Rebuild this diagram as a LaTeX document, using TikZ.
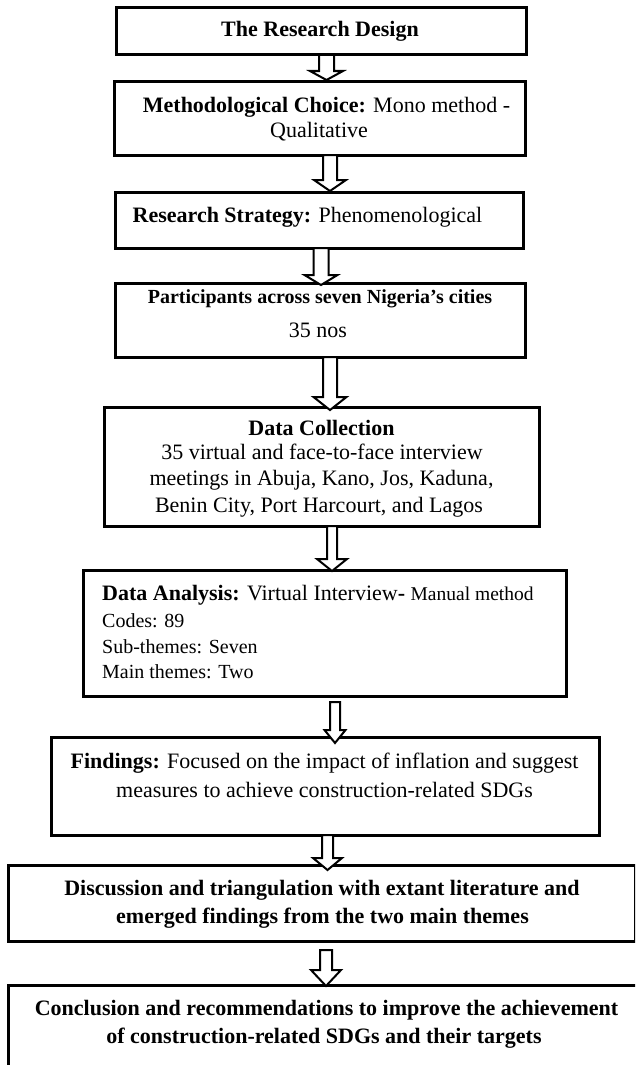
\documentclass[tikz,border=0pt]{standalone}
\usepackage{fontspec}
\setmainfont{Liberation Serif}
\newcommand\blockarrow[6]{%
  \draw[blk] (#1-#5,#2) -- (#1-#5,#3) -- (#1-#6,#3) -- (#1,#4) -- (#1+#6,#3) -- (#1+#5,#3) -- (#1+#5,#2) -- cycle;}
\begin{document}
\begin{tikzpicture}[x=1pt,y=-1pt,
  box/.style={draw=black,line width=3pt,rectangle,inner sep=0pt},
  blk/.style={draw=black,line width=2pt,fill=white,line join=miter},
  txt/.style={anchor=base,inner sep=0pt,font=\fontsize{22}{26}\selectfont},
  ltxt/.style={anchor=base west,inner sep=0pt,font=\fontsize{20}{24}\selectfont},
]
\useasboundingbox (0,0) rectangle (635,1065);
\clip (0,0) rectangle (635,1065);
\fill[white] (0,0) rectangle (635,1065);

% boxes
\node[box,minimum width=410pt,minimum height=47pt]  (b1) at (321,31.5) {};
\node[box,minimum width=411pt,minimum height=74pt]  (b2) at (319.5,118) {};
\node[box,minimum width=408pt,minimum height=56pt]  (b3) at (319,220) {};
\node[box,minimum width=410pt,minimum height=74pt]  (b4) at (320,320) {};
\node[box,minimum width=435pt,minimum height=119pt] (b5) at (321.5,466.5) {};
\node[box,minimum width=483pt,minimum height=126pt] (b6) at (324.5,633) {};
\node[box,minimum width=548pt,minimum height=98pt]  (b7) at (325,786) {};
\node[box,minimum width=627pt,minimum height=76pt]  (b8) at (321.5,903) {};
\node[box,minimum width=692pt,minimum height=135pt] (b9) at (354,1052.5) {};

% arrows
\blockarrow{326.5}{55}{71}{80}{7.5}{16.5}
\blockarrow{330}{155}{180}{191}{7}{16}
\blockarrow{321}{248}{275}{285}{7.5}{16.5}
\blockarrow{330}{357}{397}{410}{7}{16.5}
\blockarrow{332}{526}{559}{571}{5}{15}
\blockarrow{335}{702}{730}{743}{5}{10.5}
\blockarrow{327.5}{835}{858}{870}{5.5}{14.5}
\blockarrow{326}{950}{970}{986}{6}{15}

% texts
\node[txt] (t1) at (320,37) {\bfseries The Research Design};
\node[txt] (t2a) at (326.5,112) {\textbf{Methodological Choice:} Mono method -};
\node[txt] (t2b) at (319,137) {Qualitative};
\node[txt] (t3) at (307.5,222) {\textbf{Research Strategy:} Phenomenological};
\node[txt,font=\fontsize{20}{24}\selectfont\bfseries] (t4a) at (320,303) {Participants across seven Nigeria’s cities};
\node[txt] (t4b) at (318,337) {35 nos};
\node[txt] (t5a) at (321.5,435) {\bfseries Data Collection};
\node[txt] (t5b) at (322,459) {35 virtual and face-to-face interview};
\node[txt] (t5c) at (321.5,485) {meetings in Abuja, Kano, Jos, Kaduna,};
\node[txt] (t5d) at (319,512) {Benin City, Port Harcourt, and Lagos};
\node[ltxt,font=\fontsize{22}{26}\selectfont] (t6a) at (102,600) {\textbf{Data Analysis:} Virtual Interview\textbf{-} {\fontsize{19.5}{22}\selectfont Manual method}};
\node[ltxt] (t6b) at (102,627) {Codes: 89};
\node[ltxt] (t6c) at (102,653) {Sub-themes: Seven};
\node[ltxt] (t6d) at (102,678) {Main themes: Two};
\node[txt] (t7a) at (324.5,768) {\textbf{Findings:} Focused on the impact of inflation and suggest};
\node[txt] (t7b) at (324.5,797) {measures to achieve construction-related SDGs};
\node[txt] (t8a) at (322,895) {\bfseries Discussion and triangulation with extant literature and};
\node[txt] (t8b) at (322.5,923) {\bfseries emerged findings from the two main themes};
\node[txt] (t9a) at (326.5,1015) {\bfseries Conclusion and recommendations to improve the achievement};
\node[txt] (t9b) at (324,1043) {\bfseries of construction-related SDGs and their targets};
\end{tikzpicture}
\end{document}
